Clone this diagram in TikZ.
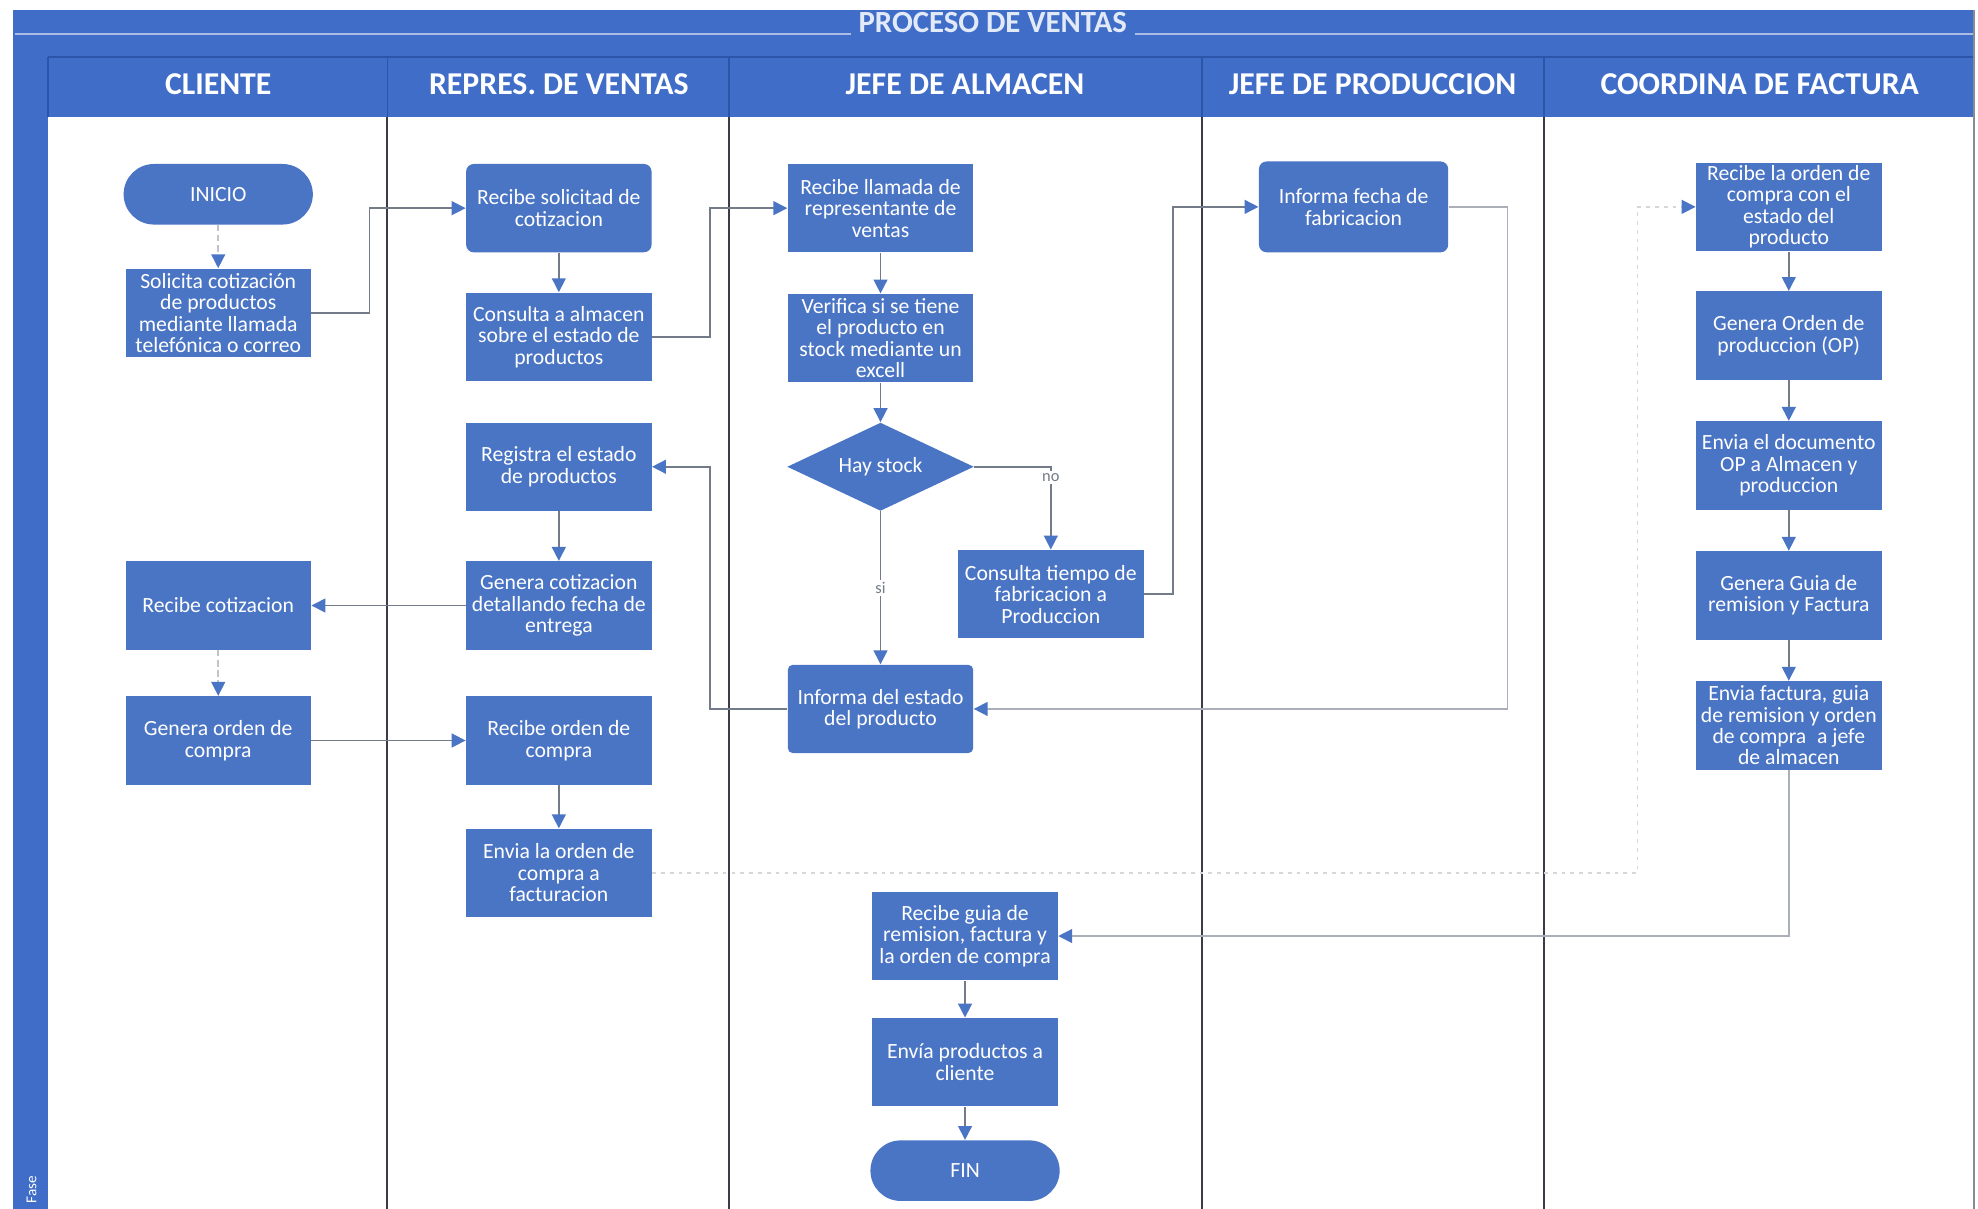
\documentclass[tikz,border=0pt]{standalone}
\usepackage{fontspec}
\setmainfont{Carlito}
\usetikzlibrary{arrows.meta,shapes.geometric}
\definecolor{bandblue}{HTML}{3F6DC8}
\definecolor{bandline}{HTML}{2C54A8}
\definecolor{boxblue}{HTML}{4A74C4}
\definecolor{linegray}{HTML}{737A88}
\definecolor{lanegray}{HTML}{3A3D46}
\definecolor{tipblue}{HTML}{4A74C4}
\begin{document}
\begin{tikzpicture}[x=0.5pt,y=-0.5pt,
  proc/.style={rectangle, fill=boxblue, text=white, minimum width=73.5pt,
    minimum height=35pt, inner sep=1pt, align=center,
    font=\fontsize{8.6}{8.5}\selectfont},
  term/.style={proc, rounded corners=12pt, minimum width=75pt, minimum height=24pt},
  decision/.style={diamond, fill=boxblue, text=white, minimum width=74pt,
    minimum height=35pt, inner sep=0pt, aspect=2.1,
    font=\fontsize{8.6}{8.5}\selectfont},
  lanehead/.style={text=white, font=\fontsize{12.6}{13}\selectfont\bfseries},
  titletext/.style={text=white!85!bandblue, fill=bandblue, inner xsep=3pt, inner ysep=1pt,
    font=\fontsize{12.2}{13}\selectfont\bfseries},
  lbl/.style={fill=white, text=linegray, inner sep=1pt, font=\fontsize{6.5}{7}\selectfont},
  conn/.style={draw=linegray, line width=0.6pt,
    -{Triangle[length=5.5pt,width=5.5pt,color=tipblue]}},
  soft/.style={conn, draw=linegray!60},
  faint/.style={conn, draw=linegray!45, dash pattern=on 2.5pt off 1.5pt},
  veryfaint/.style={conn, draw=linegray!30, dash pattern=on 1.5pt off 2pt},
]
% page and margins
\fill[white] (0,0) rectangle (1568,958);
\useasboundingbox (0,0) rectangle (1568,958);

% title band, lane header band and left bar
\fill[bandblue] (10,8) rectangle (1565,93);
\fill[bandblue] (10,8) rectangle (38,958);
\draw[white!55!bandblue, line width=0.5pt] (12,27) -- (1565,27);
\draw[bandline, line width=0.8pt] (38,45) -- (1565,45);
\foreach \lx in {38,307,578,953,1224}
  \draw[bandline, line width=0.6pt] (\lx,45) -- (\lx,93);
\node[titletext] (title) at (787,18) {PROCESO DE VENTAS};

% lane separators
\foreach \lx in {307,578,953,1224}
  \draw[lanegray, line width=0.8pt] (\lx,93) -- (\lx,958);
\draw[lanegray!60, line width=0.6pt] (1565,8) -- (1565,958);

% lane headers
\node[lanehead] (hcli) at (173,67) {CLIENTE};
\node[lanehead] (hrep) at (443,67) {REPRES. DE VENTAS};
\node[lanehead] (halm) at (765,67) {JEFE DE ALMACEN};
\node[lanehead] (hpro) at (1088,67) {JEFE DE PRODUCCION};
\node[lanehead] (hfac) at (1395,67) {COORDINA DE FACTURA};
\node[rotate=90, text=white, font=\fontsize{6}{6}\selectfont] (fase) at (25,943) {Fase};

% CLIENTE
\node[term] (inicio) at (173,154) {INICIO};
\node[proc] (solicita) at (173,248) {Solicita cotización\\de productos\\mediante llamada\\telefónica o correo};
\node[proc] (recibecot) at (173,480) {Recibe cotizacion};
\node[proc] (generaorden) at (173,587) {Genera orden de\\compra};

% REPRES. DE VENTAS
\node[proc, rounded corners=3pt] (recibesol) at (443,165) {Recibe solicitad de\\cotizacion};
\node[proc] (consulta) at (443,267) {Consulta a almacen\\sobre el estado de\\productos};
\node[proc] (registra) at (443,370) {Registra el estado\\de productos};
\node[proc] (generacot) at (443,480) {Genera cotizacion\\detallando fecha de\\entrega};
\node[proc] (recibeorden) at (443,587) {Recibe orden de\\compra};
\node[proc] (enviaorden) at (443,692) {Envia la orden de\\compra a\\facturacion};

% JEFE DE ALMACEN
\node[proc] (llamada) at (698,165) {Recibe llamada de\\representante de\\ventas};
\node[proc] (verifica) at (698,268) {Verifica si se tiene\\el producto en\\stock mediante un\\excell};
\node[decision] (stock) at (698,370) {Hay stock};
\node[proc] (tiempo) at (833,471) {Consulta tiempo de\\fabricacion a\\Produccion};
\node[proc, rounded corners=2pt] (estado) at (698,562) {Informa del estado\\del producto};
\node[proc] (recibeguia) at (765,742) {Recibe guia de\\remision, factura y\\la orden de compra};
\node[proc] (envioprod) at (765,842) {Envía productos a\\cliente};
\node[term] (fin) at (765,928) {FIN};

% JEFE DE PRODUCCION
\node[proc, rounded corners=3pt, minimum width=75pt, minimum height=36pt] (fecha) at (1073,164) {Informa fecha de\\fabricacion};

% COORDINA DE FACTURA
\node[proc] (recibefact) at (1418,164) {Recibe la orden de\\compra con el\\estado del\\producto};
\node[proc] (generaop) at (1418,266) {Genera Orden de\\produccion (OP)};
\node[proc] (enviaop) at (1418,369) {Envia el documento\\OP a Almacen y\\produccion};
\node[proc] (guia) at (1418,472) {Genera Guia de\\remision y Factura};
\node[proc] (enviafact) at (1418,575) {Envia factura, guia\\de remision y orden\\de compra\enspace a jefe\\de almacen};

% connectors
\draw[faint] (inicio) -- (solicita);
\draw[conn] (solicita.east) -- (293,248) |- (recibesol.west);
\draw[conn] (recibesol) -- (consulta);
\draw[conn] (consulta.east) -- (563,267) |- (llamada.west);
\draw[conn] (llamada) -- (verifica);
\draw[conn] (verifica) -- (stock);
\draw[conn] (stock.east) -- (833,370) -- node[lbl, pos=0.13] {no} (tiempo.north);
\draw[conn] (stock.south) -- node[lbl, pos=0.5] {si} (estado.north);
\draw[conn] (tiempo.east) -- (930,471) |- (fecha.west);
\draw[soft] (fecha.east) -- (1195,164) |- (estado.east);
\draw[conn] (estado.west) -- (563,562) |- (registra.east);
\draw[conn] (registra) -- (generacot);
\draw[conn] (generacot) -- (recibecot);
\draw[faint] (recibecot) -- (generaorden);
\draw[conn] (generaorden) -- (recibeorden);
\draw[conn] (recibeorden) -- (enviaorden);
\draw[veryfaint] (enviaorden.east) -- (1298,692) |- (recibefact.west);
\draw[conn] (recibefact) -- (generaop);
\draw[conn] (generaop) -- (enviaop);
\draw[conn] (enviaop) -- (guia);
\draw[conn] (guia) -- (enviafact);
\draw[soft] (enviafact.south) |- (recibeguia.east);
\draw[conn] (recibeguia) -- (envioprod);
\draw[conn] (envioprod) -- (fin);
\end{tikzpicture}
\end{document}
